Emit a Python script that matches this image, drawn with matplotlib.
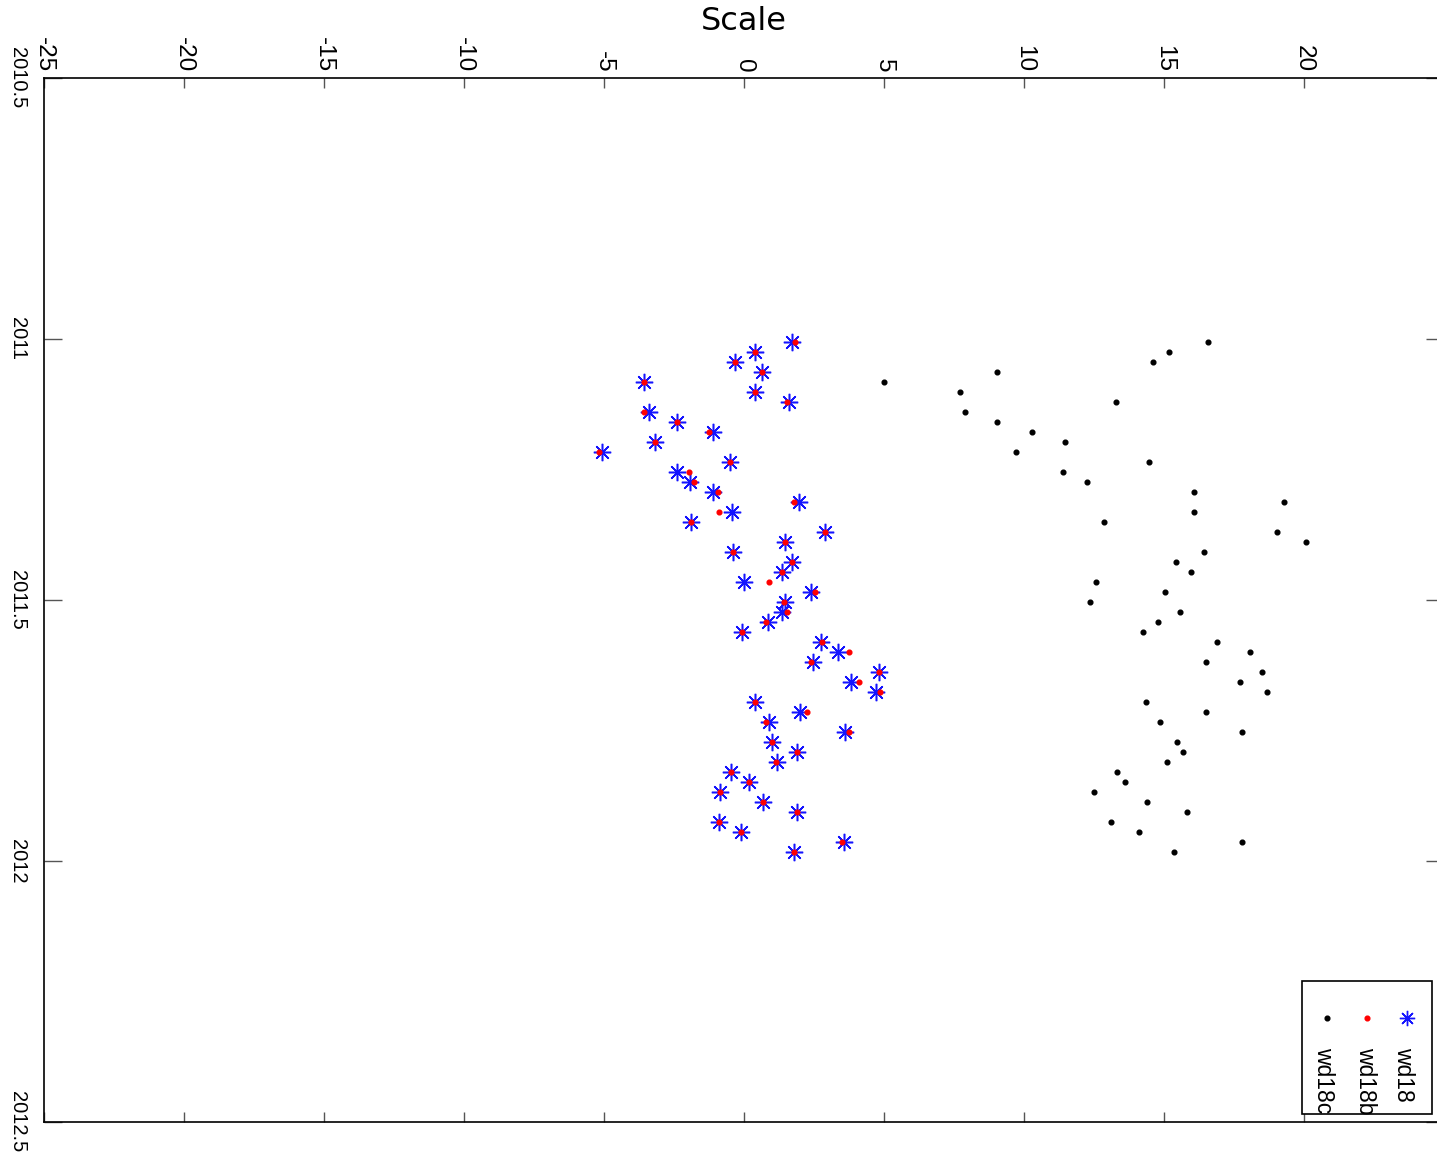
import matplotlib
matplotlib.use('Agg')
import matplotlib.pyplot as plt
from matplotlib import font_manager
from matplotlib.patches import Rectangle

# weekly samples through 2011 (decimal year)
years = [2011.0055, 2011.0247, 2011.0438, 2011.0630, 2011.0822, 2011.1014,
         2011.1205, 2011.1397, 2011.1589, 2011.1781, 2011.1973, 2011.2164,
         2011.2356, 2011.2548, 2011.2740, 2011.2932, 2011.3123, 2011.3315,
         2011.3507, 2011.3699, 2011.3890, 2011.4082, 2011.4274, 2011.4466,
         2011.4658, 2011.4849, 2011.5041, 2011.5233, 2011.5425, 2011.5616,
         2011.5808, 2011.6000, 2011.6192, 2011.6384, 2011.6575, 2011.6767,
         2011.6959, 2011.7151, 2011.7342, 2011.7534, 2011.7726, 2011.7918,
         2011.8110, 2011.8301, 2011.8493, 2011.8685, 2011.8877, 2011.9068,
         2011.9260, 2011.9452, 2011.9644, 2011.9836]

wd18 = [1.73, 0.40, -0.32, 0.64, -3.55, 0.40, 1.62, -3.38, -2.40, -1.11,
        -3.17, -5.06, -0.48, -2.40, -1.92, -1.11, 1.99, -0.41, -1.89, 2.90,
        1.47, -0.37, 1.72, 1.36, 0.00, 2.40, 1.47, 1.36, 0.88, -0.05,
        2.75, 3.36, 2.48, 4.82, 3.82, 4.71, 0.40, 2.01, 0.90, 3.62,
        1.00, 1.89, 1.20, -0.46, 0.20, -0.85, 0.70, 1.89, -0.88, -0.11,
        3.58, 1.81]

wd18b = [1.83, 0.40, -0.32, 0.64, -3.55, 0.40, 1.55, -3.55, -2.40, -1.23,
         -3.17, -5.16, -0.48, -1.96, -1.77, -0.91, 1.80, -0.88, -1.89, 2.90,
         1.47, -0.37, 1.72, 1.36, 0.92, 2.55, 1.44, 1.56, 0.80, -0.05,
         2.80, 3.76, 2.42, 4.82, 4.10, 4.86, 0.40, 2.25, 0.80, 3.77,
         1.00, 1.89, 1.15, -0.46, 0.20, -0.85, 0.70, 1.89, -0.88, -0.11,
         3.51, 1.81]

wd18c = [16.59, 15.18, 14.62, 9.03, 5.02, 7.74, 13.31, 7.89, 9.03, 10.30,
         11.47, 9.74, 14.49, 11.40, 12.26, 16.09, 19.29, 16.09, 12.88, 19.05,
         20.07, 16.45, 15.44, 15.98, 12.59, 15.03, 12.35, 15.58, 14.81, 14.27,
         16.91, 18.09, 16.50, 18.50, 17.73, 18.67, 14.36, 16.50, 14.85, 17.79,
         15.48, 15.69, 15.12, 13.32, 13.63, 12.52, 14.40, 15.84, 13.13, 14.13,
         17.80, 15.35]

xticks = [-25, -20, -15, -10, -5, 0, 5, 10, 15, 20, 25]
xlabels = ['-25', '-20', '-15', '-10', '-5', '0', '5', '10', '15', '20', '25']
yticks = [2010.5, 2011, 2011.5, 2012, 2012.5]
ylabels = ['2010.5', '2011', '2011.5', '2012', '2012.5']
names = ['wd18', 'wd18b', 'wd18c']

# narrow font for the rotated text if it is there
installed = {f.name for f in font_manager.fontManager.ttflist}
narrow = 'Liberation Sans Narrow' if 'Liberation Sans Narrow' in installed else 'Liberation Sans'

fig = plt.figure(figsize=(14.37, 11.52), dpi=100)
ax = fig.add_axes([0.0304, 0.026, 0.9743, 0.9065])

star = (8, 2, 0)
ax.plot(wd18, years, ls='none', marker=star, ms=12.5, mew=1.1, color='#1414ff')
ax.plot(wd18b, years, ls='none', marker='o', ms=3.4, color='red', mec='red')
ax.plot(wd18c, years, ls='none', marker='o', ms=3.4, color='black', mec='black')

ax.set_xlim(-25, 25)
ax.set_ylim(2012.5, 2010.5)
ax.set_xticks(xticks)
ax.set_xticklabels(xlabels, rotation=-90, family=narrow, fontsize=17.5)
ax.set_yticks(yticks)
ax.set_yticklabels(ylabels, rotation=-90, family=narrow, fontsize=14.5, va='center')
ax.xaxis.tick_top()
ax.tick_params(axis='x', which='both', top=True, bottom=True, labeltop=True,
               labelbottom=False, direction='in', length=7, width=1,
               color='#555555', pad=4)
ax.tick_params(axis='y', which='both', left=True, right=True, direction='in',
               length=13, width=1, color='#555555', pad=12)
for s in ax.spines.values():
    s.set_linewidth(1.2)
    s.set_color('black')

# fixed y so the title is not pushed up past the top tick labels
ax.set_title('Scale', fontsize=23, family='DejaVu Sans', y=1.0457, pad=0)

# legend box, drawn rotated like the rest of the figure
ax.add_patch(Rectangle((0.8988, 0.0077), 0.0928, 0.1273, transform=ax.transAxes,
                       facecolor='white', edgecolor='black', lw=1.2, zorder=5))
ax.plot([0.9735], [0.0999], transform=ax.transAxes, marker=star, ms=11, mew=1.0,
        color='#1414ff', zorder=6)
ax.plot([0.9454], [0.0999], transform=ax.transAxes, marker='o', ms=3.4,
        color='red', zorder=6)
ax.plot([0.9164], [0.0999], transform=ax.transAxes, marker='o', ms=3.4,
        color='black', zorder=6)
for xa, name in zip([0.9712, 0.9438, 0.9140], names):
    ax.text(xa, 0.0718, name, transform=ax.transAxes, rotation=-90,
            ha='center', va='top', family=narrow, fontsize=16.5, zorder=6)

fig.savefig('out.png', dpi=100)
